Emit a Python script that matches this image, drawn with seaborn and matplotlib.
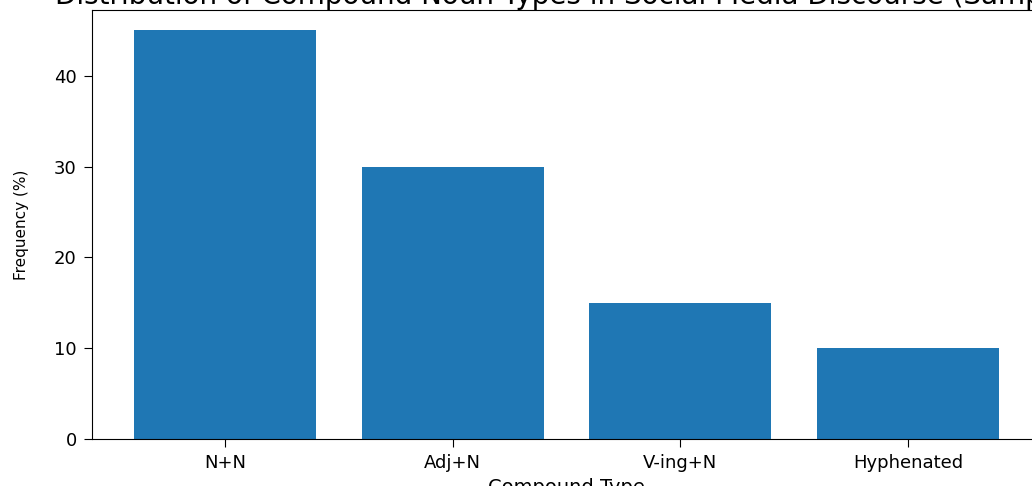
"""
Balkendiagramm: Verteilung von Komposita-Typen (Stichprobe).
"""

import matplotlib
matplotlib.use("Agg")
import matplotlib.pyplot as plt
import pandas as pd
import seaborn as sns

compound_types = ["N+N", "Adj+N", "V-ing+N", "Hyphenated"]
frequencies = [45, 30, 15, 10]

BAR_COLOR = "#1f77b4"


def main():
    df = pd.DataFrame({"Compound Type": compound_types, "Frequency (%)": frequencies})

    fig = plt.figure(figsize=(10.32, 4.86), dpi=100)
    # Achsen reichen rechts bzw. oben/unten über den Bildrand hinaus (wie im Original)
    ax = fig.add_axes([92 / 1032, 47 / 486, 949 / 1032, 429 / 486])

    sns.barplot(data=df, x="Compound Type", y="Frequency (%)", color=BAR_COLOR,
                saturation=1, width=0.8, ax=ax)

    ax.set_xlim(-0.585, 3.585)
    ax.set_ylim(0, 47.25)
    ax.set_yticks([0, 10, 20, 30, 40])

    ax.set_title("Distribution of Compound Noun Types in Social Media Discourse (Sample)",
                 fontsize=20, pad=3)
    ax.set_xlabel("Compound Type", fontsize=14, labelpad=4)
    ax.set_ylabel("Frequency (%)", fontsize=11, labelpad=18)
    ax.tick_params(axis="both", labelsize=13, length=6, pad=5)

    fig.savefig("out.png", dpi=100)
    plt.close(fig)


if __name__ == "__main__":
    main()
